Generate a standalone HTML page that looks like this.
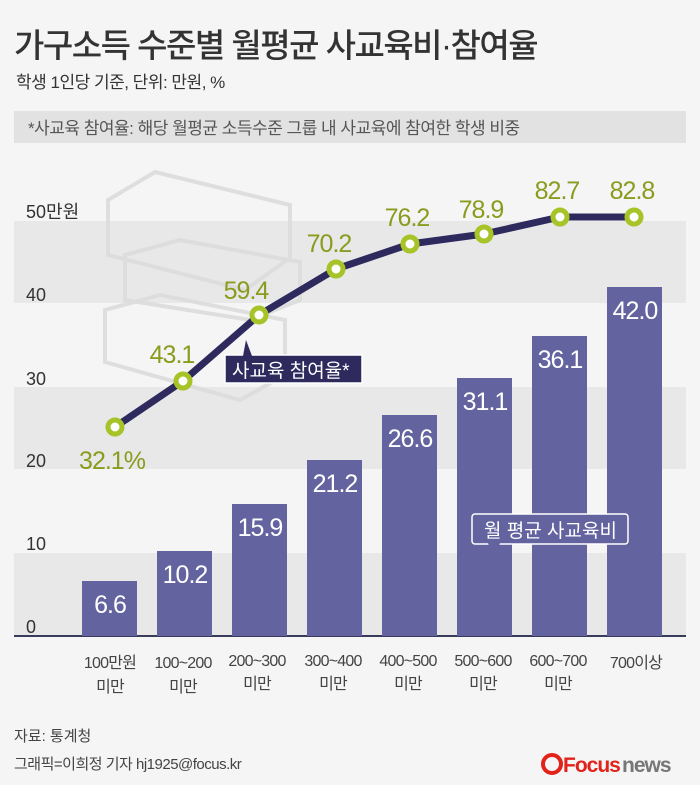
<!DOCTYPE html>
<html><head><meta charset="utf-8"><style>
body{margin:0;background:#f5f5f5;}
svg{display:block;font-family:"Liberation Sans","Noto Sans CJK KR",sans-serif;}
</style></head><body>
<svg width="700" height="785" viewBox="0 0 700 785">
<rect width="700" height="785" fill="#f5f5f5"/>
<text x="14" y="57" font-size="33" fill="#333" font-weight="500" letter-spacing="-1.5">가구소득 수준별 월평균 사교육비·참여율</text>
<text x="16" y="88" font-size="17" fill="#333" letter-spacing="-0.5">학생 1인당 기준, 단위: 만원, %</text>
<rect x="14" y="111" width="672" height="32" fill="#e2e2e2"/>
<text x="28" y="134" font-size="17" fill="#555" letter-spacing="-0.5">*사교육 참여율: 해당 월평균 소득수준 그룹 내 사교육에 참여한 학생 비중</text>
<rect x="14" y="221" width="672" height="82" fill="#e8e8e8"/>
<rect x="14" y="387" width="672" height="82" fill="#e8e8e8"/>
<rect x="14" y="553" width="672" height="82" fill="#e8e8e8"/>
<g fill="none" stroke="#dcdcdc" stroke-width="4" opacity="0.9">
<polygon points="108,200 155,172 290,205 290,258 245,290 108,255"/>
<polygon points="125,255 180,240 300,262 300,300 250,320 125,300"/>
<polygon points="105,310 160,295 285,320 285,375 240,400 105,362"/>
</g>
<g font-size="18" fill="#333">
<text x="26" y="218">50만원</text><text x="26" y="301">40</text><text x="26" y="385">30</text><text x="26" y="467">20</text><text x="26" y="550">10</text><text x="26" y="633">0</text>
</g>
<line x1="14" y1="636" x2="686" y2="636" stroke="#3a3a5a" stroke-width="2"/>
<g fill="#63649f">
<rect x="82" y="581" width="55" height="55"/>
<rect x="157" y="551" width="55" height="85"/>
<rect x="232" y="504" width="55" height="132"/>
<rect x="307" y="460" width="55" height="176"/>
<rect x="382" y="415" width="55" height="221"/>
<rect x="457" y="378" width="55" height="258"/>
<rect x="532" y="336" width="55" height="300"/>
<rect x="607" y="287" width="55" height="349"/>
</g>
<g font-size="25" fill="#fff" text-anchor="middle" letter-spacing="-1">
<text x="110" y="613">6.6</text><text x="185" y="583">10.2</text><text x="260" y="536">15.9</text><text x="335" y="492">21.2</text><text x="410" y="447">26.6</text><text x="485" y="410">31.1</text><text x="560" y="368">36.1</text><text x="635" y="319">42.0</text>
</g>
<polyline points="115,427 183,381 259,315 336,269 410,244 484,234 560,217 634,217" fill="none" stroke="#2e2a5e" stroke-width="7" stroke-linejoin="round"/>
<g fill="#fff" stroke="#a6c427" stroke-width="5">
<circle cx="115" cy="427" r="7"/><circle cx="183" cy="381" r="7"/><circle cx="259" cy="315" r="7"/><circle cx="336" cy="269" r="7"/><circle cx="410" cy="244" r="7"/><circle cx="484" cy="234" r="7"/><circle cx="560" cy="217" r="7"/><circle cx="634" cy="217" r="7"/>
</g>
<g font-size="25" fill="#8a9b1d" text-anchor="middle" letter-spacing="-1">
<text x="112" y="469">32.1%</text><text x="172" y="363">43.1</text><text x="246" y="299">59.4</text><text x="329" y="252">70.2</text><text x="407" y="226">76.2</text><text x="481" y="218">78.9</text><text x="557" y="199">82.7</text><text x="632" y="199">82.8</text>
</g>
<rect x="225" y="355" width="137" height="28" fill="#2e2a5e" stroke="#fff" stroke-width="1.5"/>
<polygon points="243,356 246,340 252,356" fill="#2e2a5e"/>
<text x="232" y="377" font-size="19" fill="#fff">사교육 참여율*</text>
<rect x="472" y="514" width="156" height="30" rx="3" fill="#63649f" stroke="#fff" stroke-width="1.5"/>
<polygon points="488,543 494,560 500,543" fill="#63649f"/>
<text x="484" y="537" font-size="19" fill="#fff">월 평균 사교육비</text>
<g font-size="16" fill="#444" text-anchor="middle" letter-spacing="-0.8">
<text x="110" y="668">100만원</text><text x="110" y="692">미만</text>
<text x="183" y="668">100~200</text><text x="183" y="692">미만</text>
<text x="257" y="666">200~300</text><text x="257" y="689">미만</text>
<text x="333" y="666">300~400</text><text x="333" y="689">미만</text>
<text x="408" y="666">400~500</text><text x="408" y="689">미만</text>
<text x="483" y="666">500~600</text><text x="483" y="689">미만</text>
<text x="558" y="666">600~700</text><text x="558" y="689">미만</text>
<text x="636" y="668">700이상</text>
</g>
<text x="14" y="741" font-size="15" fill="#444">자료: 통계청</text>
<text x="14" y="769" font-size="15" fill="#444" letter-spacing="-0.5">그래픽=이희정 기자 hj1925@focus.kr</text>
<circle cx="552" cy="764" r="9" fill="none" stroke="#e2231a" stroke-width="4"/>
<text x="563" y="772" font-size="21" font-weight="bold" fill="#e2231a" letter-spacing="-1">Focus</text>
<text x="622" y="772" font-size="21" font-weight="bold" fill="#777" letter-spacing="-1">news</text>
</svg>
</body></html>
